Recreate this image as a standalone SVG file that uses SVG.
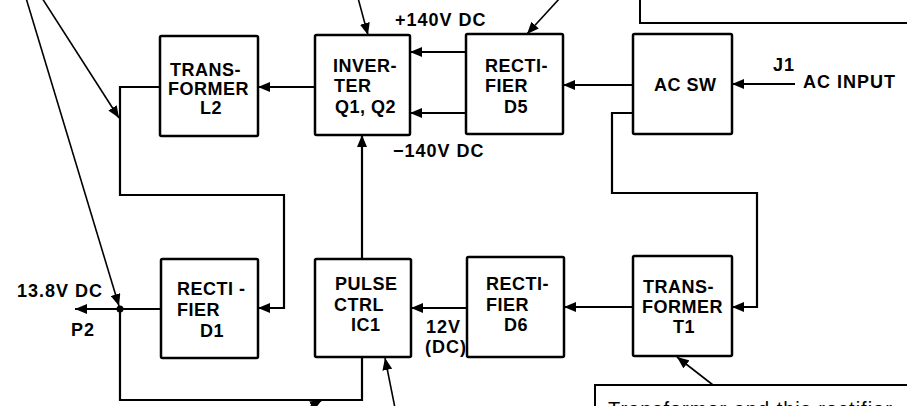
<svg xmlns="http://www.w3.org/2000/svg" width="907" height="406" viewBox="0 0 907 406">
<defs>
<marker id="arr" markerUnits="userSpaceOnUse" markerWidth="12" markerHeight="10" refX="12" refY="5" orient="auto">
<path d="M0,0 L12,5 L0,10 z" fill="#000"/>
</marker>
<style>
.box{fill:#fff;stroke:#000;stroke-width:2.5;}
.lbl{font-family:"Liberation Sans",Arial,sans-serif;font-weight:bold;font-size:18px;letter-spacing:0.5px;fill:#000;}
.out{font-family:"Liberation Sans",Arial,sans-serif;font-weight:bold;font-size:18px;letter-spacing:1px;fill:#000;}
.wire{fill:none;stroke:#000;stroke-width:2.2;}
.lead{fill:none;stroke:#000;stroke-width:1.6;}
.call{fill:none;stroke:#000;stroke-width:2;}
.note{font-family:"Liberation Sans",Arial,sans-serif;font-size:20px;letter-spacing:1px;fill:#000;}
</style>
</defs>
<rect width="907" height="406" fill="#fff"/>

<g id="connectors">
<line class="wire" x1="795" y1="84" x2="732" y2="84" marker-end="url(#arr)"/>
<line class="wire" x1="633" y1="85" x2="563" y2="85" marker-end="url(#arr)"/>
<line class="wire" x1="466" y1="52" x2="410" y2="52" marker-end="url(#arr)"/>
<line class="wire" x1="466" y1="113" x2="410" y2="113" marker-end="url(#arr)"/>
<line class="wire" x1="315" y1="87" x2="258" y2="87" marker-end="url(#arr)"/>
<polyline class="wire" points="160,87 120,87 120,195 284,195 284,308 258,308" marker-end="url(#arr)"/>
<line class="wire" x1="161" y1="309" x2="75" y2="309" marker-end="url(#arr)"/>
<circle cx="120" cy="309" r="3.5" fill="#000"/>
<polyline class="wire" points="120,309 120,400 362,400 362,357"/>
<line class="wire" x1="362" y1="259" x2="362" y2="135" marker-end="url(#arr)"/>
<line class="wire" x1="467" y1="308" x2="411" y2="308" marker-end="url(#arr)"/>
<line class="wire" x1="633" y1="307" x2="564" y2="307" marker-end="url(#arr)"/>
<polyline class="wire" points="633,113 612,113 612,193 757,193 757,307 732,307" marker-end="url(#arr)"/>

<line class="lead" x1="26" y1="-2" x2="119" y2="306" marker-end="url(#arr)"/>
<line class="lead" x1="42" y1="-2" x2="119" y2="118" marker-end="url(#arr)"/>
<line class="lead" x1="358" y1="-2" x2="368" y2="35" marker-end="url(#arr)"/>
<line class="lead" x1="560" y1="-2" x2="527" y2="34" marker-end="url(#arr)"/>
<line class="lead" x1="395" y1="408" x2="385" y2="358" marker-end="url(#arr)"/>
<line class="lead" x1="306" y1="409" x2="322" y2="400" marker-end="url(#arr)"/>
<line class="lead" x1="713" y1="385" x2="677" y2="357" marker-end="url(#arr)"/>
</g>

<g id="callout-top">
<polyline class="call" points="640,-5 640,23 912,23"/>
</g>
<g id="callout-bottom">
<polyline class="call" points="595,412 595,385 912,385"/>
<text class="note" x="608" y="416">Transformer and this rectifier</text>
</g>

<g id="transformer-l2">
<rect class="box" x="160" y="36" width="98" height="100" rx="1.5"/>
<text class="lbl" x="170" y="76">TRANS-</text>
<text class="lbl" x="168" y="95">FORMER</text>
<text class="lbl" x="200" y="114">L2</text>
</g>

<g id="inverter">
<rect class="box" x="315" y="35" width="95" height="100" rx="1.5"/>
<text class="lbl" x="333" y="72">INVER-</text>
<text class="lbl" x="334" y="92">TER</text>
<text class="lbl" x="335" y="113">Q1, Q2</text>
</g>

<g id="rectifier-d5">
<rect class="box" x="466" y="34" width="97" height="100" rx="1.5"/>
<text class="lbl" x="485" y="72">RECTI-</text>
<text class="lbl" x="485" y="92">FIER</text>
<text class="lbl" x="504" y="113">D5</text>
</g>

<g id="ac-sw">
<rect class="box" x="633" y="34" width="99" height="100" rx="1.5"/>
<text class="lbl" x="654" y="91">AC SW</text>
</g>

<g id="rectifier-d1">
<rect class="box" x="161" y="259" width="97" height="99" rx="1.5"/>
<text class="lbl" x="177" y="295">RECTI -</text>
<text class="lbl" x="177" y="316">FIER</text>
<text class="lbl" x="200" y="337">D1</text>
</g>

<g id="pulse-ctrl">
<rect class="box" x="315" y="259" width="96" height="98" rx="1.5"/>
<text class="lbl" x="335" y="290">PULSE</text>
<text class="lbl" x="334" y="311">CTRL</text>
<text class="lbl" x="351" y="331">IC1</text>
</g>

<g id="rectifier-d6">
<rect class="box" x="467" y="257" width="97" height="100" rx="1.5"/>
<text class="lbl" x="486" y="290">RECTI-</text>
<text class="lbl" x="486" y="311">FIER</text>
<text class="lbl" x="504" y="331">D6</text>
</g>

<g id="transformer-t1">
<rect class="box" x="633" y="256" width="99" height="100" rx="1.5"/>
<text class="lbl" x="643" y="293">TRANS-</text>
<text class="lbl" x="642" y="313">FORMER</text>
<text class="lbl" x="673" y="333">T1</text>
</g>

<g id="labels">
<text class="out" x="395" y="26">+140V DC</text>
<text class="out" x="393" y="157">−140V DC</text>
<text class="out" x="773" y="71">J1</text>
<text class="out" x="803" y="88">AC INPUT</text>
<text class="out" x="17" y="297">13.8V DC</text>
<text class="out" x="71" y="336">P2</text>
<text class="out" x="426" y="333">12V</text>
<text class="out" x="425" y="353">(DC)</text>
</g>
</svg>
